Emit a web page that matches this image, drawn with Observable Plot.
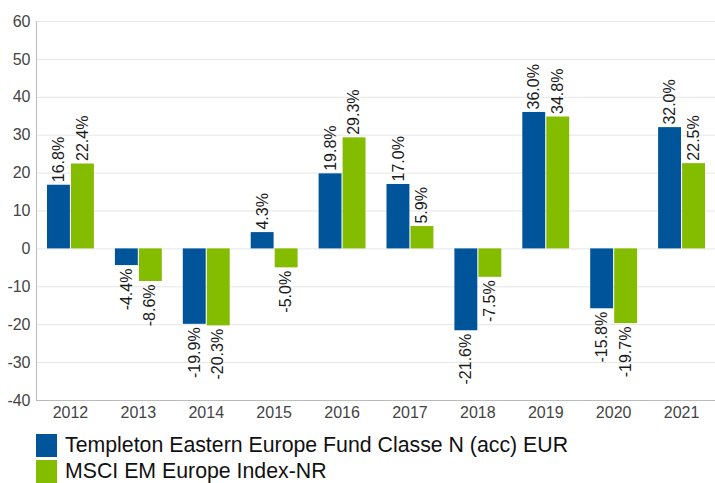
<!DOCTYPE html>
<html>
<head>
<meta charset="utf-8">
<script src="https://cdn.jsdelivr.net/npm/d3@7"></script>
<script src="https://cdn.jsdelivr.net/npm/@observablehq/plot@0.6"></script>
<style>
  body { margin: 0; background: #fff; font-family: "Liberation Sans", Arial, sans-serif; }
  .legend { margin: 7px 0 0 36px; }
  .legend .row { display: flex; align-items: center; height: 26px; font-size: 21.3px; color: #111; }
  .legend .sw { width: 21px; height: 23px; margin-right: 8px; }
</style>
</head>
<body>
<div id="chart"></div>
<script>
const years = ["2012","2013","2014","2015","2016","2017","2018","2019","2020","2021"];
const fundName = "Templeton Eastern Europe Fund Classe N (acc) EUR";
const indexName = "MSCI EM Europe Index-NR";
const fundValues = [16.8, -4.4, -19.9, 4.3, 19.8, 17.0, -21.6, 36.0, -15.8, 32.0];
const indexValues = [22.4, -8.6, -20.3, -5.0, 29.3, 5.9, -7.5, 34.8, -19.7, 22.5];
const yTicks = [-40, -30, -20, -10, 0, 10, 20, 30, 40, 50, 60];
const colors = {fund: "#00559a", index: "#84bc00"};

const fund = years.map((y, i) => ({year: y, value: fundValues[i]}));
const index = years.map((y, i) => ({year: y, value: indexValues[i]}));
const fmt = d => d.value.toFixed(1) + "%";

function labels(data, dx) {
  return [
    Plot.text(data.filter(d => d.value >= 0), {x: "year", y: "value", text: fmt, rotate: -90, textAnchor: "start", dx, dy: -3, fontSize: 16, fill: "#1a1a1a"}),
    Plot.text(data.filter(d => d.value < 0), {x: "year", y: "value", text: fmt, rotate: -90, textAnchor: "end", dx, dy: 3, fontSize: 16, fill: "#1a1a1a"})
  ];
}

const chart = Plot.plot({
  width: 715,
  height: 425,
  marginLeft: 36,
  marginRight: 0,
  marginTop: 21,
  marginBottom: 25,
  style: {fontFamily: "'Liberation Sans', Arial, sans-serif", fontSize: "16px", color: "#444", background: "#fff"},
  x: {domain: years, padding: 0, round: false, label: null, tickSize: 0, tickPadding: 6},
  y: {domain: [-40, 60], ticks: yTicks, label: null, tickSize: 0, tickPadding: 6, tickFormat: d => String(d)},
  marks: [
    Plot.ruleY(yTicks, {stroke: "#e6e6e6", strokeWidth: 1}),
    Plot.ruleY([-40], {stroke: "#bbb"}),
    Plot.frame({anchor: "left", stroke: "#bbb"}),
    Plot.barY(fund, {x: "year", y: "value", fill: colors.fund, insetLeft: 11, insetRight: 34}),
    Plot.barY(index, {x: "year", y: "value", fill: colors.index, insetLeft: 35, insetRight: 10}),
    ...labels(fund, -11.5),
    ...labels(index, 12)
  ]
});
document.getElementById("chart").appendChild(chart);

const legend = document.createElement("div");
legend.className = "legend";
[[fundName, colors.fund], [indexName, colors.index]].forEach(([name, c]) => {
  const row = document.createElement("div");
  row.className = "row";
  const sw = document.createElement("span");
  sw.className = "sw";
  sw.style.background = c;
  const t = document.createElement("span");
  t.textContent = name;
  row.appendChild(sw);
  row.appendChild(t);
  legend.appendChild(row);
});
document.getElementById("chart").appendChild(legend);
</script>
</body>
</html>
